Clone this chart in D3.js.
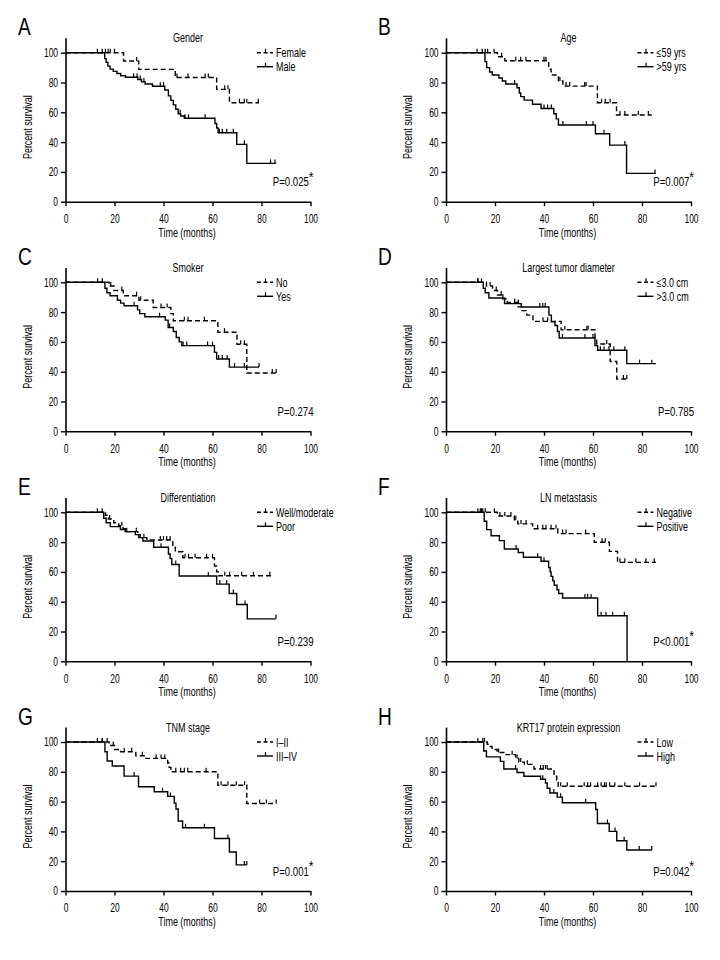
<!DOCTYPE html>
<html><head><meta charset="utf-8">
<script src="https://cdn.jsdelivr.net/npm/d3@7"></script>
<style>
html,body{margin:0;padding:0;background:#fff;}
svg text{font-family:"Liberation Sans",Arial,sans-serif;fill:#000;}
</style></head>
<body><svg id="c" width="720" height="960"></svg>
<script>
// ---------- data (time in months, percent survival) ----------
const xTicks = [0, 20, 40, 60, 80, 100];
const yTicks = [0, 20, 40, 60, 80, 100];
const panelLetters = ["A","B","C","D","E","F","G","H"];
const panelTitles = ["Gender","Age","Smoker","Largest tumor diameter","Differentiation","LN metastasis","TNM stage","KRT17 protein expression"];
const legendDashed = ["Female","\u226459 yrs","No","\u22643.0 cm","Well/moderate","Negative","I\u2013II","Low"];
const legendSolid = ["Male",">59 yrs","Yes",">3.0 cm","Poor","Positive","III\u2013IV","High"];
const pValues = ["P=0.025","P=0.007","P=0.274","P=0.785","P=0.239","P<0.001","P=0.001","P=0.042"];
const pStar = [true,true,false,false,false,true,true,true];

const A_female = [[0,100],[23.7,94.4],[29.9,88.8],[44.8,83.4],[61.7,75.4],[66.9,66.4],[79,66.4]];
const A_femaleCens = [13,15,16.3,17.4,18.3,20,29,45.5,50,57,58.3,65,66.3,71,73,74,78.7];
const A_male = [[0,100],[16,96],[16.6,93.5],[17.3,91],[18.2,89],[19.5,87.5],[21,86],[22.5,84.5],[24.5,83.5],[29.5,82],[31,80.5],[32.5,79],[35.5,77.5],[40.5,75],[42,71],[43,68],[44,65],[45,62],[46,59],[47,57.5],[48.5,56],[61,52.5],[61.7,49.5],[62.3,46.3],[69.9,38.5],[74,25.7],[86,25.7]];
const A_maleCens = [27.8,29.2,30.5,32,38.7,40,46.8,48.8,50.2,57,62.8,64,65.8,68.5,73,83.7,85.5];

const B_young = [[0,100],[21,97.3],[24,94.6],[41.9,89],[42.9,85],[45.9,81],[47.7,77.6],[61.8,66.4],[69.6,58.2],[84,58.2]];
const B_youngCens = [12.7,14.8,16,17,19.6,22.7,28.5,30.5,32.6,40,40.8,46.5,49,50.5,56.6,57.2,63.5,65,67,71,73,78.5,82.6];
const B_old = [[0,100],[15.9,94],[16.6,90],[17.8,87],[18.9,85],[21.6,83],[23,81],[24.4,79],[29,76.5],[29.9,73],[30.5,70.5],[31.9,68.2],[35.3,65.4],[38.8,62.6],[44,59],[45,55.6],[45.9,51.5],[61,45.6],[66.8,38],[73.7,19],[85.6,19]];
const B_oldCens = [28,40,41.5,43,47.7,57.3,60,64.5,73,85.3];

const C_no = [[0,100],[17.8,97.5],[19.8,94.5],[23.6,91],[30,88],[35.8,83.1],[43,79],[44,74.2],[62.2,66.5],[70,58.4],[74,39.1],[86,39.1]];
const C_noCens = [13.1,15,18.5,23,29,30.7,39,41.5,48.5,50,56.7,64.9,71.5,73,84.4,86];
const C_yes = [[0,100],[16.1,96],[16.9,93],[18.2,91],[21.2,88],[22.5,86],[23.9,84.3],[29.4,81.5],[30.3,79],[32.4,76.9],[40.7,74.6],[41.9,69.7],[44,67],[45.2,63],[46.4,60],[47.5,57.5],[60.8,53],[61.7,48.5],[66.9,43.1],[79,43.1]];
const C_yesCens = [28,38.4,42.5,48,49.5,58,60,62.5,64,66,69,73,79];

const D_small = [[0,100],[16.5,97.5],[19,94.5],[21,91.5],[23,89],[25,86.5],[29.5,83.5],[31,81],[33,78],[35.5,73.8],[47,68.2],[60.8,63],[61.5,58.6],[67,46.8],[69.7,35.1],[73.8,35.1]];
const D_smallCens = [13,14.5,18,20.5,22.5,28,39.6,41.5,48.5,57.5,58,65.6,72.4,73.8];
const D_big = [[0,100],[15.2,96],[16,93],[17.5,89.5],[23.9,85.7],[30.7,83.4],[42,78],[43,73.5],[44.5,71],[45.5,67],[46.2,62.6],[60.8,57.5],[61.9,54.4],[73.8,45.4],[85.7,45.4]];
const D_bigCens = [13,23.2,28,29.5,38.3,39.5,40.5,47.5,56.7,60,63,64.5,66.5,68.5,73,79,84];

const E_well = [[0,100],[16.3,98],[17.5,95.5],[19.7,93],[21.7,91],[23.5,89],[24.8,87],[29.5,85],[30.5,83],[33.2,81.4],[43.8,77.8],[44.8,73.5],[47.9,69.5],[60.8,64],[61.7,60],[62.4,57.4],[84.1,57.4]];
const E_wellCens = [13,15,18,23,28.9,32,38.7,40,41.3,42.7,48.8,50.2,52.9,57.6,60,65,67,71.9,76.7,83.4];
const E_poor = [[0,100],[15.6,96],[16.6,93],[18.3,90.4],[22.4,88.5],[24.4,87],[28.5,85],[29.9,83],[31.6,80.7],[36,76.5],[42,72],[42.7,69],[43.4,65],[46.4,57.2],[61.7,51.8],[66.8,45.5],[69.9,38.1],[74.2,28.5],[85.9,28.5]];
const E_poorCens = [25,39,45,58.3,63,65.8,68.5,73.3,85.9];

const F_neg = [[0,100],[21,97.5],[27.9,95],[29.3,92.2],[35.4,89],[45.6,85.7],[60.5,79.9],[66.7,73.8],[70,66.4],[85.7,66.4]];
const F_negCens = [13,14.5,16,19.7,22,24,26.5,28.5,30.6,32.7,37.4,39.5,40.8,42.9,44.9,47.6,49,57,63.7,65,71,73,77.5,81.6,85];
const F_pos = [[0,100],[15.6,94],[16.6,88.4],[18.4,84.3],[21.8,81],[23.8,75.4],[29.5,73],[31.6,69.8],[38.8,67.1],[41.9,63],[42.5,60],[42.9,57],[43.6,54],[44.2,51],[45.3,48],[46,45.5],[47.6,42.5],[61.9,30.6],[73.9,0]];
const F_posCens = [14,15,28.6,37.4,40,56.7,57.8,59.2,63.3,65.3,68,72.8];

const G_early = [[0,100],[17.8,97.7],[20,95],[22.5,93.5],[28.7,90.8],[32.8,89],[41.7,85.9],[42.3,83],[43,80],[62.2,71],[74,58.7],[86,58.7]];
const G_earlyCens = [13,15,17,19.5,24,27,31.4,37,39,40.5,45,47,48.5,49.9,57.4,63.5,66.3,69.7,73.1,79.2,82,86];
const G_late = [[0,100],[16.1,93.5],[17,87.2],[19.1,83.9],[23.9,77.1],[29.8,70],[36.2,66.6],[41.7,63.5],[44.4,59],[45.1,55],[46,47],[47.8,42.4],[60.8,35.2],[66.9,26.2],[69.7,17.5],[74,17.5]];
const G_lateCens = [15,28,39.6,42.8,49,56.7,66.3,73,74];

const H_low = [[0,100],[16.8,98.5],[17.5,97],[18.8,95],[20.9,93],[23.6,91.5],[28.4,89],[29.7,86.5],[32,85],[35.9,81.9],[44.1,77],[45.2,74.5],[45.8,70.3],[85.7,70.3]];
const H_lowCens = [13,15,15.7,21.5,27,29,30.5,33.2,38.6,39.7,40.6,41.3,46.8,49.5,56.4,57.8,59,61.9,63.3,64.7,65.4,66.8,68.9,73,79,85.7];
const H_high = [[0,100],[15.4,94],[16.5,90],[22.2,87],[23.6,81.9],[29,79.5],[31.8,77],[38.6,75],[40.6,72.5],[41.3,69],[42.4,65.8],[45.4,63],[47.5,59.2],[61.1,54.7],[61.8,45.3],[66.6,40],[69.7,33.7],[73.8,27.5],[84,27.5]];
const H_highCens = [28.4,39.5,44,46.8,57,65.9,69,72.7,78.9,84];

const dashedSeries = [[A_female,A_femaleCens],[B_young,B_youngCens],[C_no,C_noCens],[D_small,D_smallCens],[E_well,E_wellCens],[F_neg,F_negCens],[G_early,G_earlyCens],[H_low,H_lowCens]];
const solidSeries = [[A_male,A_maleCens],[B_old,B_oldCens],[C_yes,C_yesCens],[D_big,D_bigCens],[E_poor,E_poorCens],[F_pos,F_posCens],[G_late,G_lateCens],[H_high,H_highCens]];

// ---------- layout ----------
const svg = d3.select("#c");
const colX = [65.5, 446];
const letterX = [18, 378];
const rowY = [201.7, 431.3, 661.3, 891];
const W = 245, UNIT = 1.49;
const FS = 12.3, SX = 0.73, SXT = 0.69;

function survAt(steps, t){
  let s = steps[0][1];
  for (const [tt, ss] of steps){ if (tt <= t) s = ss; else break; }
  return s;
}
function txt(parent, x, y, str, opts = {}){
  const t = parent.append("text")
    .attr("transform", `translate(${x},${y})${opts.rot ? " rotate(" + opts.rot + ")" : ""} scale(${opts.sx || SX},1)`)
    .attr("text-anchor", opts.anchor || "start")
    .attr("font-size", opts.size || FS);
  if (str !== null) t.text(str);
  return t;
}

panelLetters.forEach((L, i) => {
  const col = i % 2, row = Math.floor(i / 2);
  const x0 = colX[col], y0 = rowY[row];
  const H = 110 * UNIT;
  const g = svg.append("g").attr("transform", `translate(${x0},${y0 - H})`);
  const x = d3.scaleLinear().domain([0, 100]).range([0, W]);
  const y = d3.scaleLinear().domain([0, 110]).range([H, 0]);

  // axes
  const xa = g.append("g").attr("transform", `translate(0,${H})`)
    .call(d3.axisBottom(x).tickValues(xTicks).tickSize(4.5).tickSizeOuter(0).tickPadding(8.2));
  const ya = g.append("g")
    .call(d3.axisLeft(y).tickValues(yTicks).tickSize(4.5).tickSizeOuter(0).tickPadding(6.3));
  [xa, ya].forEach(a => {
    a.select(".domain").attr("stroke", "#000").attr("stroke-width", 1.6);
    a.selectAll(".tick line").attr("stroke", "#000").attr("stroke-width", 1.4);
    a.selectAll(".tick text").attr("font-size", FS).attr("fill", "#000")
      .attr("transform", `scale(${SXT},1)`)
      .style("font-family", '"Liberation Sans",Arial,sans-serif');
  });

  // axis titles
  txt(g, W / 2 - 1, H + 35, "Time (months)", {anchor: "middle"});
  txt(g, -34, y(50), "Percent survival", {anchor: "middle", rot: -90});

  // panel title & letter
  txt(g, W / 2, y(110) + 4.5, panelTitles[i], {anchor: "middle"});
  txt(g, letterX[col] - x0, y(110) - 2.5, L, {size: 24.5, sx: 0.78});

  // curves
  const line = d3.line().x(d => x(d[0])).y(d => y(d[1])).curve(d3.curveStepAfter);
  const drawSeries = (steps, cens, dashed) => {
    g.append("path").datum(steps).attr("d", line).attr("fill", "none")
      .attr("stroke", "#000").attr("stroke-width", 1.4)
      .attr("stroke-dasharray", dashed ? "5,3" : null);
    g.selectAll(null).data(cens).enter().append("line")
      .attr("x1", d => x(d)).attr("x2", d => x(d))
      .attr("y1", d => y(survAt(steps, d))).attr("y2", d => y(survAt(steps, d)) - 4)
      .attr("stroke", "#000").attr("stroke-width", 1.2);
  };
  drawSeries(solidSeries[i][0], solidSeries[i][1], false);
  drawSeries(dashedSeries[i][0], dashedSeries[i][1], true);

  // legend
  const lg = [[legendDashed[i], true], [legendSolid[i], false]];
  lg.forEach(([label, dashed], k) => {
    const ly = y(100) + k * 14;
    g.append("line").attr("x1", 191.5).attr("x2", 207.5).attr("y1", ly).attr("y2", ly)
      .attr("stroke", "#000").attr("stroke-width", 1.4).attr("stroke-dasharray", dashed ? "4,2.5" : null);
    g.append("line").attr("x1", 200).attr("x2", 200).attr("y1", ly).attr("y2", ly - 4)
      .attr("stroke", "#000").attr("stroke-width", 1.2);
    txt(g, 210.5, ly + 4.5, label);
  });

  // p-value
  const pt = txt(g, W + 3, y(10) - 0.5, null, {anchor: "end", sx: 0.78});
  pt.append("tspan").text(pValues[i]);
  if (pStar[i]) pt.append("tspan").attr("dy", -4.5).attr("font-size", 15.5).text("*");
});
</script></body></html>
